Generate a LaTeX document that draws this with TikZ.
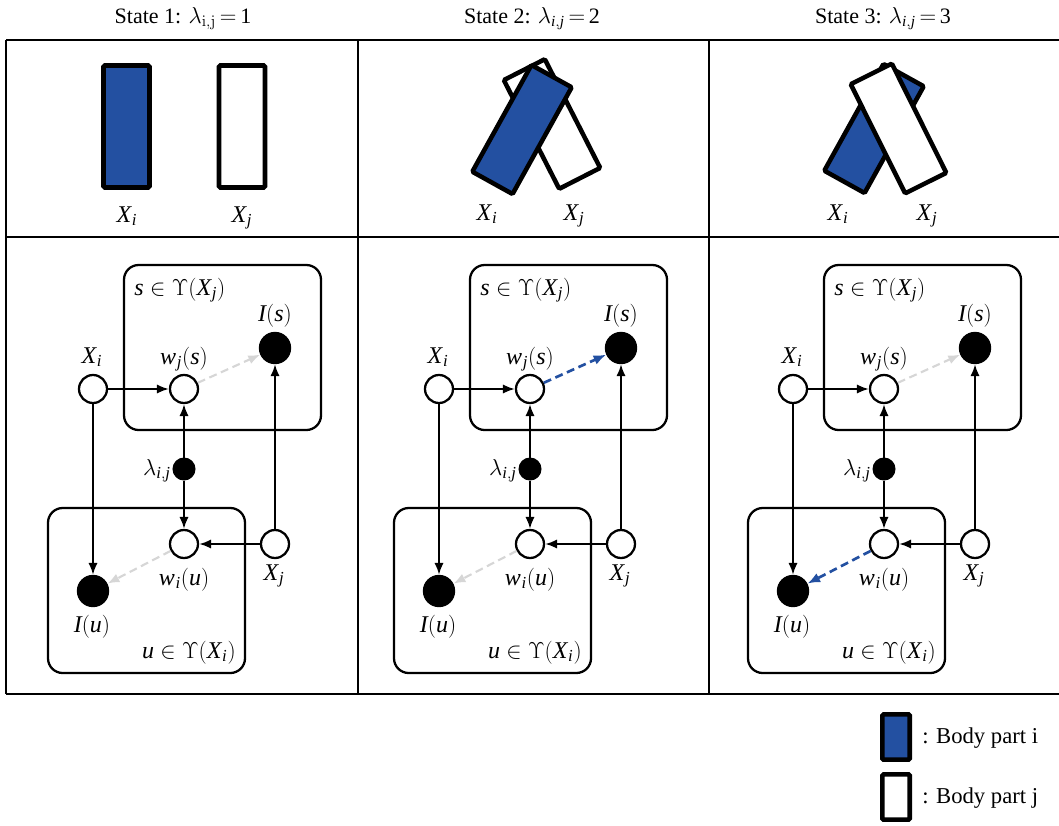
\documentclass[tikz,border=0pt]{standalone}
\usepackage{amsmath}
\usepackage[no-math]{fontspec}
\setmainfont{Liberation Serif}
\usetikzlibrary{arrows.meta}
\definecolor{bodyblue}{RGB}{35,80,161}
\definecolor{lightg}{RGB}{214,214,214}
\newcommand{\mi}[1]{\text{\itshape #1}}
\newcommand{\sbx}[1]{_{\kern0.5pt\mi{#1}}}
\begin{document}
\begin{tikzpicture}[x=0.75pt,y=-0.75pt,
  tline/.style={line width=1.6pt},
  body/.style={draw, line width=3.4pt, minimum width=34.5pt, minimum height=91.5pt, inner sep=0pt, rounded corners=1pt},
  bi/.style={body, fill=bodyblue},
  bj/.style={body, fill=white},
  plate/.style={draw, line width=1.7pt, rounded corners=11pt},
  onode/.style={circle, draw, line width=1.7pt, fill=white, minimum size=21pt, inner sep=0pt},
  fnode/.style={circle, draw, fill=black, line width=0.75pt, minimum size=23.5pt, inner sep=0pt},
  lnode/.style={circle, draw, fill=black, line width=0.75pt, minimum size=16.5pt, inner sep=0pt},
  arr/.style={line width=1.6pt, -{Latex[length=9pt,width=7pt]}},
  grayarr/.style={line width=1.6pt, draw=lightg, dash pattern=on 6pt off 3.5pt, -{Latex[length=9pt,width=7pt]}},
  bluearr/.style={line width=2pt, draw=bodyblue, dash pattern=on 6pt off 3.5pt, -{Latex[length=9.5pt,width=7.5pt]}},
  ttl/.style={font=\fontsize{16.5}{20}\selectfont, anchor=base, inner sep=0pt},
  lab/.style={font=\fontsize{18}{21}\selectfont, inner sep=0pt},
  leg/.style={font=\fontsize{17}{20}\selectfont, inner sep=0pt, anchor=base west},
]
\useasboundingbox (0,0) rectangle (1059,825);

% table
\draw[tline] (6,40) -- (1059,40) (6,237) -- (1059,237) (6,694) -- (1059,694)
  (6,40) -- (6,694) (358,40) -- (358,694) (709,40) -- (709,694);

% titles
\node[ttl] (t1) at (183,23) {State 1: $\lambda_{\mathrm{i,j}}\,{=}\,\text{1}$};
\node[ttl] (t2) at (532,23) {State 2: $\lambda_{\mi{i},\mi{j}}\,{=}\,\text{2}$};
\node[ttl] (t3) at (883,23) {State 3: $\lambda_{\mi{i},\mi{j}}\,{=}\,\text{3}$};

% body parts
\node[bi] (b1i) at (126.5,126.5) {};
\node[bj] (b1j) at (242,126.5) {};
\node[bj, rotate=27] (b2j) at (552,124) {};
\node[bi, rotate=-29] (b2i) at (522,129.5) {};
\node[bi, rotate=-29] (b3i) at (874,128.5) {};
\node[bj, rotate=26.5] (b3j) at (898.5,128.5) {};

\node[lab, anchor=base] (l1i) at (127,222) {$\mi{X}\sbx{i}$};
\node[lab, anchor=base] (l1j) at (242,222) {$\mi{X}\sbx{j}$};
\node[lab, anchor=base] (l2i) at (487,220) {$\mi{X}\sbx{i}$};
\node[lab, anchor=base] (l2j) at (574,220) {$\mi{X}\sbx{j}$};
\node[lab, anchor=base] (l3i) at (838,220) {$\mi{X}\sbx{i}$};
\node[lab, anchor=base] (l3j) at (927,220) {$\mi{X}\sbx{j}$};

% graphs
\foreach \dx/\k/\up/\lo in {0/a/grayarr/grayarr, 346/b/bluearr/grayarr, 700/c/grayarr/bluearr}{
\begin{scope}[shift={(\dx,0)}]
  \draw[plate] (124,265) rectangle (321,430);
  \draw[plate] (48,508) rectangle (245,673);
  \node[onode] (Xi\k) at (93,389) {};
  \node[onode] (wj\k) at (184,389) {};
  \node[fnode] (Is\k) at (275,348) {};
  \node[lnode] (lam\k) at (184,469) {};
  \node[onode] (wi\k) at (184,544) {};
  \node[onode] (Xj\k) at (275,544) {};
  \node[fnode] (Iu\k) at (93,591) {};
  \draw[arr] (Xi\k) -- (wj\k);
  \draw[arr] (Xi\k) -- (Iu\k);
  \draw[arr] (lam\k) -- (wj\k);
  \draw[arr] (lam\k) -- (wi\k);
  \draw[arr] (Xj\k) -- (wi\k);
  \draw[arr] (Xj\k) -- (Is\k);
  \draw[\up] (wj\k) -- (Is\k);
  \draw[\lo] (wi\k) -- (Iu\k);
  \node[lab, anchor=base west] (Ls\k) at (134,295) {$\mi{s}\in\Upsilon(\mi{X}\sbx{j})$};
  \node[lab, anchor=base] (LIs\k) at (275,321) {$\mi{I}(\mi{s})$};
  \node[lab, anchor=base] (LXi\k) at (92,363) {$\mi{X}\sbx{i}$};
  \node[lab, anchor=base] (Lwj\k) at (184,364) {$\mi{w}\sbx{j}(\mi{s})$};
  \node[lab, anchor=base east] (Llam\k) at (171,475) {$\lambda_{\mi{i},\mi{j}}$};
  \node[lab, anchor=base] (Lwi\k) at (184,585) {$\mi{w}\sbx{i}(\mi{u})$};
  \node[lab, anchor=base] (LXj\k) at (274,580) {$\mi{X}\sbx{j}$};
  \node[lab, anchor=base] (LIu\k) at (92,632) {$\mi{I}(\mi{u})$};
  \node[lab, anchor=base east] (Lu\k) at (236,658) {$\mi{u}\in\Upsilon(\mi{X}\sbx{i})$};
\end{scope}}

% legend
\node[bi, minimum width=20.6pt, minimum height=34pt] (lgi) at (896,737) {};
\node[bj, minimum width=20.6pt, minimum height=34pt] (lgj) at (896,797) {};
\node[leg] (lgti) at (922,743) {: Body part i};
\node[leg] (lgtj) at (922,803) {: Body part j};
\end{tikzpicture}
\end{document}
